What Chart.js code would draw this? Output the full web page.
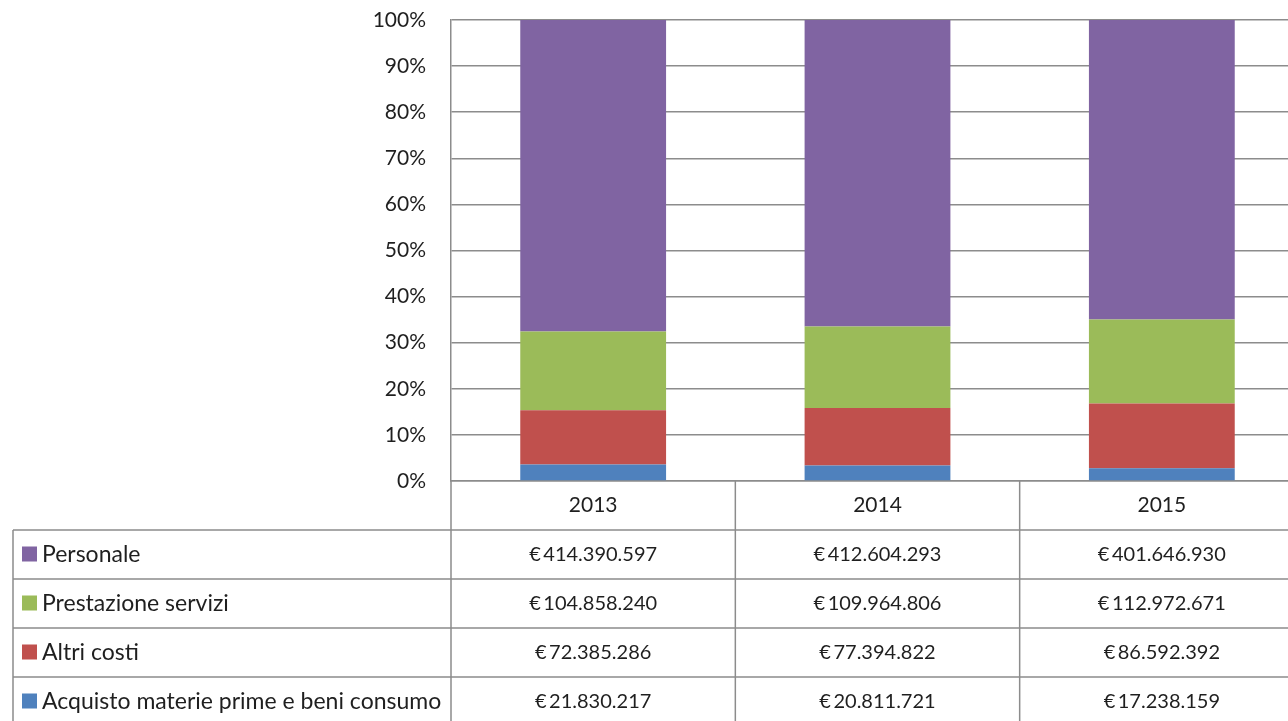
<!DOCTYPE html>
<html>
<head>
<meta charset="utf-8">
<script src="https://cdn.jsdelivr.net/npm/chart.js@4"></script>
<style>
  html, body { margin: 0; padding: 0; background: #fff; overflow: hidden; }
  #wrap { width: 1288px; height: 721px; overflow: hidden; }
</style>
</head>
<body>
<div id="wrap"><canvas id="chart" width="1304" height="721"></canvas></div>
<script>
const years = ["2013", "2014", "2015"];
const seriesNames = ["Acquisto materie prime e beni consumo", "Altri costi", "Prestazione servizi", "Personale"];
const acquisto = [21830217, 20811721, 17238159];
const altriCosti = [72385286, 77394822, 86592392];
const prestazione = [104858240, 109964806, 112972671];
const personale = [414390597, 412604293, 401646930];
const seriesColors = ["#4F81BD", "#C0504D", "#9BBB59", "#8064A2"];

const rawSeries = [acquisto, altriCosti, prestazione, personale];
const totals = years.map((_, i) => rawSeries.reduce((s, arr) => s + arr[i], 0));

const FONT = "Lato, sans-serif";
const GRID = "#8c8c8c";
const TEXT = "#1f1f1f";

function euro(v) {
  return "€\u2009" + String(v).replace(/\B(?=(\d{3})+(?!\d))/g, ".");
}

// data table drawn under the plot, aligned with the x scale
const dataTable = {
  id: "dataTable",
  afterDraw(chart) {
    const ctx = chart.ctx;
    const area = chart.chartArea;
    const top = area.bottom;
    const rowH = 49;
    const tableLeft = 13;
    const n = chart.data.datasets.length;
    const catW = (area.right - area.left) / years.length;
    const bottom = top + rowH * (n + 1);

    ctx.save();
    ctx.strokeStyle = GRID;
    ctx.lineWidth = 1.5;
    ctx.beginPath();
    for (let i = 0; i <= years.length; i++) {
      const x = area.left + i * catW;
      ctx.moveTo(x, top);
      ctx.lineTo(x, bottom);
    }
    ctx.moveTo(tableLeft, top + rowH);
    ctx.lineTo(tableLeft, bottom);
    for (let k = 1; k <= n + 1; k++) {
      ctx.moveTo(tableLeft, top + rowH * k);
      ctx.lineTo(area.right, top + rowH * k);
    }
    ctx.stroke();

    ctx.textBaseline = "middle";
    for (let r = 0; r < n; r++) {
      const di = n - 1 - r;
      const ds = chart.data.datasets[di];
      const cy = top + rowH * (r + 1) + rowH / 2;
      ctx.fillStyle = ds.backgroundColor;
      ctx.fillRect(22, cy - 8, 15, 15);
      ctx.fillStyle = TEXT;
      ctx.font = "23px " + FONT;
      ctx.textAlign = "left";
      ctx.fillText(ds.label, 42, cy);
      ctx.font = "20px " + FONT;
      ctx.textAlign = "center";
      for (let i = 0; i < years.length; i++) {
        ctx.fillText(euro(rawSeries[di][i]), area.left + (i + 0.5) * catW, cy);
      }
    }
    ctx.restore();
  }
};

new Chart(document.getElementById("chart"), {
  type: "bar",
  data: {
    labels: years,
    datasets: seriesNames.map((name, k) => ({
      label: name,
      data: rawSeries[k].map((v, i) => v / totals[i] * 100),
      backgroundColor: seriesColors[k],
      borderWidth: 0,
      categoryPercentage: 1,
      barPercentage: 1 / 1.95
    }))
  },
  options: {
    responsive: false,
    animation: false,
    layout: { padding: { top: 20, right: 0, bottom: 0, left: 0 } },
    plugins: { legend: { display: false }, tooltip: { enabled: false } },
    scales: {
      x: {
        stacked: true,
        grid: { display: false, drawTicks: false },
        border: { display: true, color: GRID, width: 1.5 },
        ticks: { color: TEXT, font: { family: FONT, size: 21 }, padding: 12 },
        afterFit(scale) { scale.height = 240; }
      },
      y: {
        stacked: true,
        min: 0,
        max: 100,
        grid: { color: GRID, lineWidth: 1.5, drawTicks: false },
        border: { display: true, color: GRID, width: 1.5 },
        ticks: {
          stepSize: 10,
          color: TEXT,
          font: { family: FONT, size: 21 },
          padding: 25,
          callback: v => v + "%"
        },
        afterFit(scale) {
          scale.width = 451;
          scale.paddingTop = 0;
          scale.paddingBottom = 0;
        }
      }
    }
  },
  plugins: [dataTable]
});
</script>
</body>
</html>
